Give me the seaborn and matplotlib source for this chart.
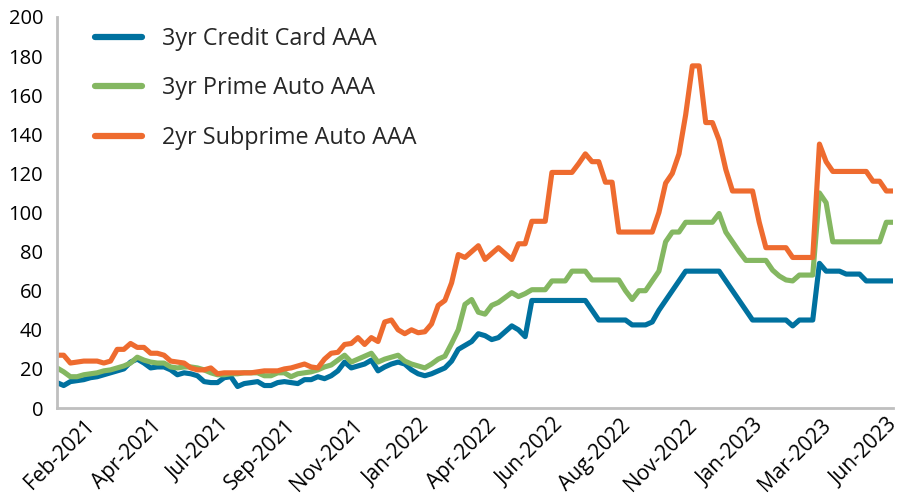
import numpy as np
import pandas as pd
import matplotlib
matplotlib.use("Agg")
import matplotlib.pyplot as plt
import matplotlib.transforms as mtransforms
import seaborn as sns

# ---- data ----
dates = pd.date_range("2021-01-08", periods=126, freq="7D")

credit_card = [
    13, 11.5, 13.5, 14, 14.5, 15.5, 16, 17, 18, 19,
    20, 23.5, 25, 23, 20.5, 21, 21, 19.5, 17, 18,
    17.5, 16.5, 13.5, 13, 13, 15.5, 16, 11, 12.5, 13,
    13.5, 11.5, 11.5, 13, 13.5, 13, 12.5, 14.5, 14.5, 16,
    15, 16.5, 19, 23.5, 20.5, 21.5, 22.5, 24.5, 19, 21,
    22.5, 23.5, 22.5, 19.5, 17.5, 16.5, 17.5, 19, 20.5, 24,
    30, 32, 34, 38, 37, 35, 36, 39, 42, 40,
    36.5, 55, 55, 55, 55, 55, 55, 55, 55, 55,
    50, 45, 45, 45, 45, 45, 42.5, 42.5, 42.5, 44,
    50, 55, 60, 65, 70, 70, 70, 70, 70, 70,
    65, 60, 55, 50, 45, 45, 45, 45, 45, 45,
    42, 45, 45, 45, 74, 70, 70, 70, 68.5, 68.5,
    68.5, 65, 65, 65, 65, 65,
]

prime_auto = [
    20.5, 18.5, 16, 16, 17, 17.5, 18, 19, 19.5, 20.5,
    21.5, 23, 26, 24.5, 23.5, 23, 23, 21, 20.5, 21,
    21, 20.5, 19.5, 18, 17, 17, 17.5, 17.5, 18, 18,
    18, 16.5, 16.5, 18, 18, 16, 17.5, 18, 18.5, 19.5,
    21, 22, 24.5, 27, 23.5, 25, 26.5, 28, 23.5, 25,
    26, 27, 24, 22.5, 21.5, 20.5, 22.5, 25, 26.5, 33,
    40, 53, 55.5, 49, 48, 52.5, 54, 56.5, 59, 57,
    58.5, 60.5, 60.5, 60.5, 65, 65, 65, 70, 70, 70,
    65.5, 65.5, 65.5, 65.5, 65.5, 60, 55.5, 60, 60, 65,
    70, 85, 90, 90, 95, 95, 95, 95, 95, 99.5,
    90, 85, 80, 75.5, 75.5, 75.5, 75.5, 70.5, 67.5, 65.5,
    65, 68, 68, 68, 110, 105, 85, 85, 85, 85,
    85, 85, 85, 85, 95, 95,
]

subprime_auto = [
    27, 27, 23, 23.5, 24, 24, 24, 23, 24, 30,
    30, 33, 31, 31, 28, 28, 27, 24, 23.5, 23,
    20.5, 19.5, 19.5, 20.5, 17.5, 18, 18, 18, 18, 18,
    18.5, 19, 19, 19, 20, 20.5, 21.5, 22.5, 21, 20.5,
    25, 28, 28.5, 32.5, 33, 36, 32.5, 36, 34, 44,
    45, 40, 38, 40, 38.5, 39, 43, 52.5, 55, 64,
    78.5, 77, 80, 83, 76, 79, 82, 79, 76, 84,
    84, 95.5, 95.5, 95.5, 120.5, 120.5, 120.5, 120.5, 125, 130,
    126, 126, 115.5, 115.5, 90, 90, 90, 90, 90, 90,
    100, 115, 120, 130, 150, 175, 175, 146, 146, 137,
    122, 111, 111, 111, 111, 95, 82, 82, 82, 82,
    77, 77, 77, 77, 135, 126, 121, 121, 121, 121,
    121, 121, 116, 116, 111, 111,
]

series_names = ["3yr Credit Card AAA", "3yr Prime Auto AAA", "2yr Subprime Auto AAA"]
series_colors = ["#00719F", "#84B761", "#EE6B2F"]

tick_labels = ["Feb-2021", "Apr-2021", "Jul-2021", "Sep-2021", "Nov-2021", "Jan-2022",
               "Apr-2022", "Jun-2022", "Aug-2022", "Nov-2022", "Jan-2023", "Mar-2023",
               "Jun-2023"]
y_ticks = [0, 20, 40, 60, 80, 100, 120, 140, 160, 180, 200]

# ---- build long table ----
frames = []
for name, vals in zip(series_names, [credit_card, prime_auto, subprime_auto]):
    frames.append(pd.DataFrame({"date": dates, "value": vals, "series": name}))
df = pd.concat(frames, ignore_index=True)

sns.set_style("white")
plt.rcParams["font.family"] = ["Open Sans", "DejaVu Sans"]

fig = plt.figure(figsize=(9, 5.04), dpi=100)
ax = fig.add_axes([57 / 900, 1 - 408 / 504, 836 / 900, 391 / 504])

sns.lineplot(data=df, x="date", y="value", hue="series", hue_order=series_names,
             palette=dict(zip(series_names, series_colors)), linewidth=3.7,
             ax=ax, legend=True)

ax.set_xlim(dates[0], dates[-1])
ax.set_ylim(0, 200)
ax.set_xlabel("")
ax.set_ylabel("")
ax.tick_params(axis="both", length=0, colors="black")
ax.tick_params(axis="y", pad=10)
ax.tick_params(axis="x", pad=5)
ax.grid(False)

ax.set_yticks(y_ticks)
ax.set_yticklabels([str(v) for v in y_ticks], fontsize=14.5)
ax.set_xticks(dates[5::10])
ax.set_xticklabels(tick_labels, rotation=45, ha="right", va="top",
                   rotation_mode="anchor", fontsize=15)
shift = mtransforms.ScaledTranslation(-6 / 100, 0, fig.dpi_scale_trans)
for tick in ax.xaxis.get_major_ticks():
    tick.label1.set_transform(tick.label1.get_transform() + shift)

for s in ["top", "right"]:
    ax.spines[s].set_visible(False)
for s in ["left", "bottom"]:
    ax.spines[s].set_color("#BFBFBF")
    ax.spines[s].set_linewidth(2)

leg = ax.legend(loc="upper left", bbox_to_anchor=((95 - 57) / 836, 0.975),
                frameon=False, fontsize=16.8, handlelength=2.0, handletextpad=0.85,
                labelspacing=1.1, borderpad=0, borderaxespad=0)
for line in leg.get_lines():
    line.set_linewidth(4.5)
    line.set_solid_capstyle("round")

fig.savefig("out.png", dpi=100)
